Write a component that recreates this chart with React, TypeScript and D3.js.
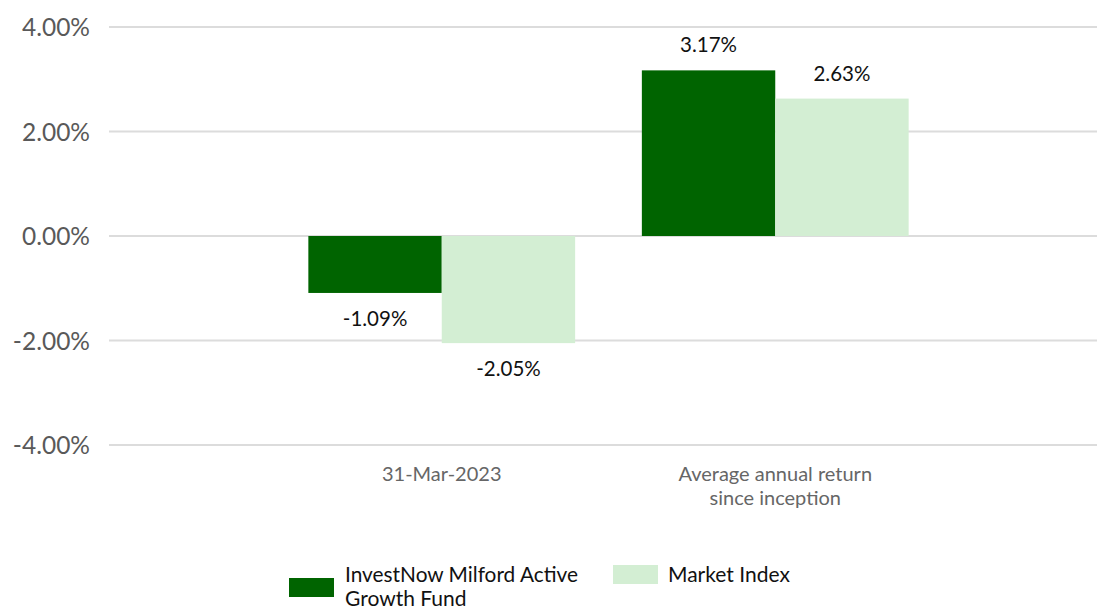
import React from "react";
import * as d3 from "d3";

const categories = ["31-Mar-2023", "Average annual return since inception"];
const categoryLines = [["31-Mar-2023"], ["Average annual return", "since inception"]];
const seriesNames = ["InvestNow Milford Active Growth Fund", "Market Index"];
const fundValues = [-1.09, 3.17];
const indexValues = [-2.05, 2.63];
const yTicks = [-4, -2, 0, 2, 4];
const colors = ["#006400", "#d3eed3"];

const W = 1097;
const H = 610;
const FONT = "Lato, 'Open Sans', sans-serif";

export default function App() {
  const y = d3.scaleLinear().domain([-4, 4]).range([445, 27]);
  const x0 = d3.scaleBand<string>().domain(categories).range([275, 942]).paddingInner(0.2).paddingOuter(0.1);
  const x1 = d3.scaleBand<number>().domain([0, 1]).range([0, x0.bandwidth()]);
  const series = [fundValues, indexValues];
  const fmt = (v: number) => v.toFixed(2) + "%";

  return (
    <svg width={W} height={H} style={{ position: "absolute", left: 0, top: 0 }} fontFamily={FONT}>
      <rect width={W} height={H} fill="#fff" />
      {yTicks.map((t) => (
        <g key={t}>
          <line x1={109} x2={1097} y1={y(t)} y2={y(t)} stroke="#dcdcdc" strokeWidth={2} />
          <text x={90} y={y(t) + 9} textAnchor="end" fontSize={24.5} fill="#595959">
            {t.toFixed(2) + "%"}
          </text>
        </g>
      ))}
      {categories.map((c, ci) =>
        series.map((vals, si) => {
          const v = vals[ci];
          const bx = (x0(c) as number) + (x1(si) as number);
          const bw = x1.bandwidth();
          const top = Math.min(y(v), y(0));
          const h = Math.abs(y(v) - y(0));
          const ly = v >= 0 ? y(v) - 18 : y(v) + 33;
          return (
            <g key={c + si}>
              <rect x={bx} y={top} width={bw} height={h} fill={colors[si]} />
              <text x={bx + bw / 2} y={ly} textAnchor="middle" fontSize={20.5} fill="#111">
                {fmt(v)}
              </text>
            </g>
          );
        })
      )}
      {categories.map((c, ci) => (
        <text key={c} x={(x0(c) as number) + x0.bandwidth() / 2} y={481} textAnchor="middle" fontSize={20} fill="#666">
          {categoryLines[ci].map((l, li) => (
            <tspan key={li} x={(x0(c) as number) + x0.bandwidth() / 2} dy={li === 0 ? 0 : 24}>
              {l}
            </tspan>
          ))}
        </text>
      ))}
      <g>
        <rect x={289} y={578} width={45} height={19} fill={colors[0]} />
        <text fontSize={21} fill="#111">
          <tspan x={345} y={582} textLength={233} lengthAdjust="spacingAndGlyphs">InvestNow Milford Active</tspan>
          <tspan x={345} y={606}>Growth Fund</tspan>
        </text>
        <rect x={613} y={565} width={45} height={19} fill={colors[1]} />
        <text x={668} y={582} fontSize={21} fill="#111">
          {seriesNames[1]}
        </text>
      </g>
    </svg>
  );
}
